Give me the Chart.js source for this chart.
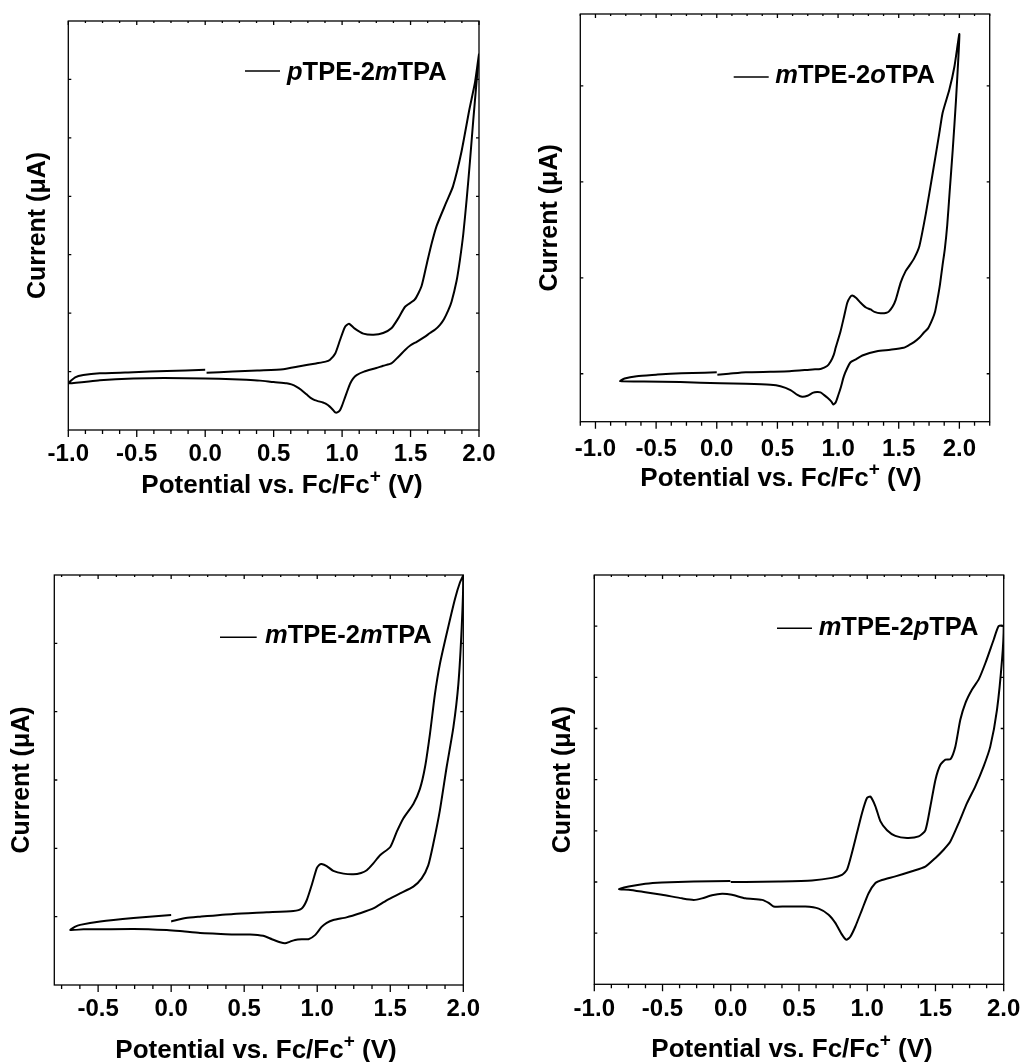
<!DOCTYPE html>
<html>
<head>
<meta charset="utf-8">
<script src="https://cdn.jsdelivr.net/npm/chart.js@4.4.1/dist/chart.umd.min.js"></script>
<style>
html,body{margin:0;padding:0;background:#fff;width:1024px;height:1062px;overflow:hidden;}
canvas{position:absolute;display:block;}
</style>
</head>
<body>
<canvas id="c1"></canvas>
<canvas id="c2"></canvas>
<canvas id="c3"></canvas>
<canvas id="c4"></canvas>
<script>
// ---------------- DATA ----------------
const seriesNames = ['pTPE-2mTPA', 'mTPE-2oTPA', 'mTPE-2mTPA', 'mTPE-2pTPA'];
const xTitleMain = 'Potential vs. Fc/Fc';
const xTitleSup = '+';
const xTitleEnd = ' (V)';
const yTitle = 'Current (\u03BCA)';
const xTickLabels = [-1.0, -0.5, 0.0, 0.5, 1.0, 1.5, 2.0];
const xTickLabelsP3 = [-0.5, 0.0, 0.5, 1.0, 1.5, 2.0];
const yTicksP1 = [0, 1, 2, 3, 4, 5];
const yTicksP2 = [0, 1, 2, 3];
const yTicksP3 = [0, 1, 2, 3, 4];
const yTicksP4 = [0, 1, 2, 3, 4, 5, 6];

// pTPE-2mTPA
const p1Potential = [
  0.01,0.2,0.38,0.57,0.69,0.81,0.88,0.91,0.95,0.985,1.02,1.05,1.09,1.155,1.23,1.3,1.36,1.41,1.46,1.53,1.58,1.62,1.655,1.69,1.76,1.81,1.87,1.93,1.97,2.0,
  1.98,1.958,1.934,1.91,1.885,1.86,1.836,1.8,1.776,1.745,1.715,1.68,1.642,1.6,1.545,1.5,1.46,1.41,1.36,1.3,1.25,1.16,1.106,1.08,1.06,1.04,1.02,1.0,0.985,0.965,
  0.95,0.935,0.91,0.88,0.86,0.83,0.8,0.77,0.74,0.7,0.668,0.63,0.595,0.5,0.4,0.3,0.2,0.0,-0.3,-0.525,-0.77,-1.0,
  -0.95,-0.89,-0.77,-0.525,-0.28,0.0];
const p1Current = [
  -0.02,0.0,0.02,0.04,0.09,0.14,0.17,0.2,0.31,0.54,0.76,0.82,0.74,0.65,0.63,0.66,0.74,0.91,1.11,1.23,1.46,1.86,2.2,2.49,2.89,3.17,3.74,4.49,4.94,5.43,
  4.9,4.3,3.6,2.95,2.35,1.9,1.55,1.2,1.05,0.9,0.8,0.72,0.66,0.59,0.51,0.45,0.37,0.25,0.14,0.1,0.06,0.0,-0.06,-0.12,-0.2,-0.32,-0.45,-0.58,-0.66,-0.7,
  -0.7,-0.66,-0.6,-0.55,-0.53,-0.51,-0.49,-0.45,-0.39,-0.31,-0.26,-0.22,-0.2,-0.18,-0.155,-0.14,-0.13,-0.12,-0.11,-0.12,-0.15,-0.2,
  -0.1,-0.06,-0.03,-0.01,0.01,0.03];

// mTPE-2oTPA
const p2Potential = [
  0.005,0.1,0.24,0.44,0.6,0.79,0.856,0.91,0.94,0.965,0.98,1.02,1.05,1.076,1.1,1.117,1.15,1.186,1.23,1.268,1.3,1.351,1.4,1.42,1.45,1.475,1.516,1.557,1.59,1.626,1.67,1.725,1.78,1.835,1.862,1.917,1.959,2.0,
  1.972,1.945,1.92,1.9,1.88,1.86,1.84,1.82,1.8,1.778,1.74,1.708,1.67,1.626,1.587,1.54,1.43,1.32,1.2,1.147,1.103,1.076,1.048,1.023,1.0,0.98,0.96,0.945,0.913,0.883,0.855,0.828,0.79,0.748,0.704,0.665,0.608,0.525,0.443,0.24,0.03,-0.3,-0.6,-0.796,
  -0.76,-0.66,-0.5,-0.383,-0.2,0.0];
const p2Current = [
  -0.01,0.0,0.015,0.02,0.025,0.045,0.05,0.08,0.13,0.2,0.27,0.44,0.6,0.74,0.8,0.815,0.79,0.74,0.69,0.67,0.645,0.63,0.635,0.65,0.7,0.77,0.95,1.07,1.13,1.2,1.33,1.68,2.09,2.51,2.72,2.96,3.2,3.54,
  2.85,2.33,1.9,1.55,1.3,1.12,0.93,0.78,0.65,0.57,0.47,0.43,0.375,0.33,0.3,0.27,0.25,0.235,0.19,0.15,0.12,0.06,-0.025,-0.14,-0.23,-0.3,-0.32,-0.29,-0.25,-0.22,-0.195,-0.19,-0.2,-0.23,-0.24,-0.22,-0.17,-0.13,-0.115,-0.105,-0.1,-0.087,-0.08,-0.077,
  -0.05,-0.025,-0.01,0.0,0.008,0.015];

// mTPE-2mTPA
const p3Potential = [
  0.0,0.1,0.198,0.426,0.654,0.837,0.894,0.928,0.962,0.997,1.015,1.03,1.065,1.11,1.18,1.247,1.3,1.339,1.384,1.43,1.5,1.544,1.59,1.658,1.703,1.738,1.772,1.806,1.84,1.886,1.943,1.977,2.0,
  1.989,1.966,1.932,1.886,1.84,1.795,1.76,1.715,1.658,1.567,1.475,1.384,1.293,1.2,1.11,1.065,1.03,0.985,0.94,0.894,0.848,0.814,0.78,0.746,0.69,0.63,0.54,0.426,0.312,0.198,0.06,-0.03,-0.258,-0.486,-0.6,-0.69,
  -0.66,-0.623,-0.486,-0.258,0.0];
const p3Current = [
  -0.07,-0.02,0.0,0.04,0.063,0.083,0.12,0.24,0.46,0.71,0.76,0.77,0.74,0.67,0.63,0.62,0.64,0.68,0.78,0.9,1.02,1.24,1.44,1.65,1.87,2.19,2.68,3.26,3.7,4.14,4.65,4.89,4.99,
  4.23,3.4,2.77,2.19,1.56,1.07,0.75,0.56,0.44,0.34,0.24,0.12,0.05,-0.01,-0.05,-0.09,-0.15,-0.27,-0.33,-0.33,-0.34,-0.365,-0.39,-0.375,-0.33,-0.28,-0.26,-0.26,-0.25,-0.24,-0.21,-0.195,-0.18,-0.185,-0.185,-0.195,
  -0.15,-0.12,-0.07,-0.02,0.025];

// mTPE-2pTPA
const p4Potential = [
  0.0,0.107,0.351,0.595,0.742,0.815,0.852,0.888,0.925,0.962,0.998,1.023,1.06,1.096,1.145,1.206,1.292,1.377,1.426,1.463,1.5,1.536,1.573,1.61,1.646,1.682,1.72,1.768,1.817,1.866,1.927,1.963,2.0,
  1.988,1.951,1.902,1.853,1.792,1.731,1.67,1.609,1.56,1.5,1.426,1.328,1.206,1.108,1.06,1.01,0.962,0.913,0.876,0.847,0.815,0.766,0.717,0.644,0.546,0.4,0.314,0.278,0.229,0.107,0.009,-0.064,-0.138,-0.211,-0.272,-0.357,-0.504,-0.626,-0.748,-0.82,
  -0.748,-0.626,-0.504,-0.272,-0.003];
const p4Current = [
  1.0,1.0,1.01,1.03,1.08,1.14,1.24,1.57,1.96,2.35,2.64,2.67,2.48,2.19,2.01,1.9,1.86,1.89,2.01,2.48,3.0,3.29,3.39,3.4,3.65,4.17,4.5,4.76,4.96,5.28,5.74,6.0,6.0,
  5.35,4.37,3.65,3.26,2.87,2.54,2.15,1.79,1.63,1.47,1.3,1.21,1.11,1.04,0.98,0.78,0.46,0.13,-0.07,-0.13,-0.03,0.2,0.36,0.48,0.52,0.52,0.52,0.59,0.65,0.68,0.75,0.77,0.74,0.68,0.65,0.68,0.75,0.8,0.85,0.86,
  0.91,0.965,0.99,1.01,1.02];

// ---------------- STYLE / LAYOUT ----------------
const FONT = '"Liberation Sans", Arial, Helvetica, sans-serif';
const panels = [
  { id:'c1', name:seriesNames[0], V:p1Potential, I:p1Current, xLabels:xTickLabels, yTicks:yTicksP1,
    box:{x:0,y:0,w:512,h:530}, plot:{l:68.3,t:21,r:479,b:430}, xr:[-1,2], yr:[-1,6],
    tickPad:9.6, yTitleCx:38, xTitle:{cx:282,base:492.5},
    legend:{x1:245,x2:280,ly:71,tx:287,base:80} },
  { id:'c2', name:seriesNames[1], V:p2Potential, I:p2Current, xLabels:xTickLabels, yTicks:yTicksP2,
    box:{x:512,y:0,w:512,h:530}, plot:{l:580.3,t:14,r:989.7,b:421.7}, xr:[-1.125,2.25], yr:[-0.5,3.75],
    tickPad:13, yTitleCx:550, xTitle:{cx:781,base:486},
    legend:{x1:733.7,x2:768.7,ly:77,tx:775.3,base:82.7} },
  { id:'c3', name:seriesNames[2], V:p3Potential, I:p3Current, xLabels:xTickLabelsP3, yTicks:yTicksP3,
    box:{x:0,y:530,w:512,h:532}, plot:{l:54.3,t:575,r:463.3,b:985}, xr:[-0.8,2.0], yr:[-1,5],
    tickPad:9.6, yTitleCx:22.5, xTitle:{cx:256,base:1058},
    legend:{x1:220,x2:256.7,ly:637.3,tx:265,base:643.3} },
  { id:'c4', name:seriesNames[3], V:p4Potential, I:p4Current, xLabels:xTickLabels, yTicks:yTicksP4,
    box:{x:512,y:530,w:512,h:532}, plot:{l:594.3,t:575,r:1003.7,b:984.3}, xr:[-1,2], yr:[-1,7],
    tickPad:10.8, yTitleCx:563, xTitle:{cx:792,base:1056.5},
    legend:{x1:777,x2:812,ly:628.3,tx:818.7,base:635} }
];

const framePlugin = {
  id: 'frame',
  afterDatasetsDraw(chart) {
    const c = chart.options.plugins.frame;
    const {ctx, chartArea:a} = chart;
    const x = chart.scales.x, y = chart.scales.y;
    ctx.save();
    ctx.strokeStyle = '#000';
    ctx.lineWidth = 1.3;
    ctx.strokeRect(a.left, a.top, a.right - a.left, a.bottom - a.top);
    ctx.beginPath();
    const step = 0.125;
    const k0 = Math.ceil(x.min / step - 1e-6), k1 = Math.floor(x.max / step + 1e-6);
    for (let k = k0; k <= k1; k++) {
      const v = k * step;
      const px = x.getPixelForValue(v);
      const major = (k % 4 === 0);
      ctx.moveTo(px, a.bottom); ctx.lineTo(px, a.bottom + (major ? 7 : 4));
      ctx.moveTo(px, a.top); ctx.lineTo(px, a.top + (major ? 4 : 2));
    }
    y.ticks.forEach(t => {
      const py = y.getPixelForValue(t.value);
      ctx.moveTo(a.left, py); ctx.lineTo(a.left + 3, py);
      ctx.moveTo(a.right, py); ctx.lineTo(a.right - 3, py);
    });
    ctx.stroke();

    // x-axis title with superscript
    ctx.fillStyle = '#000';
    ctx.textBaseline = 'alphabetic';
    ctx.textAlign = 'left';
    const mainFont = 'bold 26px ' + FONT, supFont = 'bold 19px ' + FONT;
    ctx.font = mainFont; const w1 = ctx.measureText(xTitleMain).width; const w3 = ctx.measureText(xTitleEnd).width;
    ctx.font = supFont; const w2 = ctx.measureText(xTitleSup).width;
    let tx = c.xTitle.cx - c.ox - (w1 + w2 + w3) / 2;
    const tb = c.xTitle.base - c.oy;
    ctx.font = mainFont; ctx.fillText(xTitleMain, tx, tb); tx += w1;
    ctx.font = supFont; ctx.fillText(xTitleSup, tx, tb - 11); tx += w2;
    ctx.font = mainFont; ctx.fillText(xTitleEnd, tx, tb);

    // legend
    const L = c.legend;
    ctx.lineWidth = 1.5;
    ctx.beginPath();
    ctx.moveTo(L.x1 - c.ox, L.ly - c.oy); ctx.lineTo(L.x2 - c.ox, L.ly - c.oy);
    ctx.stroke();
    const nm = c.name;
    const segs = [[nm[0], true], [nm.slice(1, 6), false], [nm[6], true], [nm.slice(7), false]];
    let lx = L.tx - c.ox;
    segs.forEach(([s, it]) => {
      ctx.font = (it ? 'italic ' : '') + 'bold 25.5px ' + FONT;
      ctx.fillText(s, lx, L.base - c.oy);
      lx += ctx.measureText(s).width;
    });
    ctx.restore();
  }
};

panels.forEach(p => {
  const cv = document.getElementById(p.id);
  cv.style.left = p.box.x + 'px';
  cv.style.top = p.box.y + 'px';
  cv.width = p.box.w; cv.height = p.box.h;
  cv.style.width = p.box.w + 'px'; cv.style.height = p.box.h + 'px';
  const yAxisW = p.plot.l - p.box.x;
  const xAxisH = p.box.y + p.box.h - p.plot.b;
  new Chart(cv.getContext('2d'), {
    type: 'scatter',
    data: {
      datasets: [{
        label: p.name,
        data: p.V.map((v, i) => ({x: v, y: p.I[i]})),
        showLine: true,
        borderColor: '#000',
        backgroundColor: '#000',
        borderWidth: 2,
        pointRadius: 0,
        tension: 0.2,
        fill: false
      }]
    },
    options: {
      responsive: false,
      animation: false,
      devicePixelRatio: 1,
      layout: { padding: { left: 0, top: p.plot.t - p.box.y, right: p.box.x + p.box.w - p.plot.r, bottom: 0 } },
      plugins: {
        legend: { display: false },
        tooltip: { enabled: false },
        frame: { ox: p.box.x, oy: p.box.y, xTitle: p.xTitle, legend: p.legend, name: p.name }
      },
      scales: {
        x: {
          type: 'linear', position: 'bottom', min: p.xr[0], max: p.xr[1],
          grid: { display: false, drawTicks: false },
          border: { display: false },
          ticks: {
            color: '#000', padding: p.tickPad, autoSkip: false, maxRotation: 0, includeBounds: false,
            font: { family: FONT, size: 24, weight: 'bold', lineHeight: 1.2 },
            callback: v => Number(v).toFixed(1)
          },
          afterBuildTicks: s => { s.ticks = p.xLabels.map(v => ({value: v})); },
          afterFit: s => { s.height = xAxisH; s.paddingLeft = 0; s.paddingRight = 0; }
        },
        y: {
          type: 'linear', position: 'left', min: p.yr[0], max: p.yr[1],
          grid: { display: false, drawTicks: false },
          border: { display: false },
          ticks: { display: false },
          afterBuildTicks: s => { s.ticks = p.yTicks.map(v => ({value: v})); },
          title: {
            display: true, text: yTitle, color: '#000',
            font: { family: FONT, size: 25, weight: 'bold', lineHeight: 1 },
            padding: { top: p.yTitleCx - p.box.x - 12.5, bottom: 0 }
          },
          afterFit: s => { s.width = yAxisW; s.paddingTop = 0; s.paddingBottom = 0; }
        }
      }
    },
    plugins: [framePlugin]
  });
});
</script>
</body>
</html>
